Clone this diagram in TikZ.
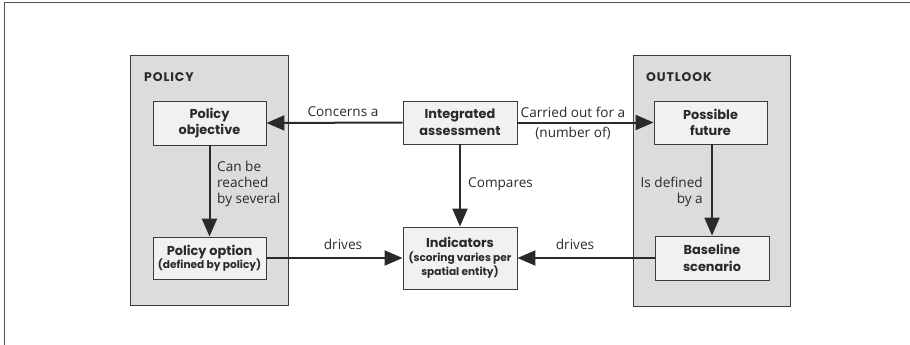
\documentclass[tikz,border=0pt]{standalone}
\usepackage{fontspec}
\setmainfont{Open Sans}
\newfontfamily\boxfont{Poppins}
\newfontfamily\titlefont{Poppins}[LetterSpace=7]
\usetikzlibrary{arrows.meta}
\definecolor{grpfill}{HTML}{DCDCDE}
\definecolor{boxfill}{HTML}{F0F1F3}
\definecolor{txt}{HTML}{2A2A2A}
\definecolor{edge}{HTML}{3C3C3C}
\newcommand{\smalltxt}[1]{{\fontsize{10.6}{12}\selectfont #1}}
\begin{document}
\begin{tikzpicture}[x=1pt,y=-1pt,
  grp/.style={draw=edge, line width=1pt, fill=grpfill, inner sep=0pt},
  nbox/.style={draw=edge, line width=0.9pt, fill=boxfill, inner sep=0pt, align=center,
    text=txt, font=\boxfont\bfseries\fontsize{12.9}{16.5}\selectfont},
  conn/.style={line width=2pt, draw=txt, -{Triangle[length=18pt,width=15pt]}},
  lbl/.style={font=\fontsize{13.6}{16}\selectfont, text=txt, inner sep=0pt},
  grptitle/.style={font=\titlefont\bfseries\fontsize{12.5}{12}\selectfont, text=txt, inner sep=0pt, anchor=west}
]
\useasboundingbox (0,0) rectangle (910,345);
\draw[edge!90, line width=1pt] (4,360) -- (4,3) -- (930,3);

% groups
\node[grp, minimum width=158pt, minimum height=249pt] (polgrp) at (209.5,180.5) {};
\node[grp, minimum width=157.5pt, minimum height=250pt] (outgrp) at (711.75,181) {};
\node[grptitle] (poltitle) at (144,77) {POLICY};
\node[grptitle] (outtitle) at (646,77) {OUTLOOK};

% boxes
\node[nbox, minimum width=113pt, minimum height=44pt] (pobj) at (209.5,123) {Policy\\objective};
\node[nbox, minimum width=113pt, minimum height=42pt] (popt) at (209.5,258) {Policy option\\[-3pt]\smalltxt{(defined by policy)}};
\node[nbox, minimum width=114pt, minimum height=43pt] (ia) at (460,122.5) {Integrated\\assessment};
\node[nbox, minimum width=114pt, minimum height=62pt] (ind) at (460,258) {Indicators\\[-3pt]\smalltxt{(scoring varies per}\\[-2pt]\smalltxt{spatial entity)}};
\node[nbox, minimum width=113pt, minimum height=43pt] (pf) at (710.5,122.5) {Possible\\future};
\node[nbox, minimum width=114pt, minimum height=44pt] (bs) at (712,258) {Baseline\\scenario};

% connectors
\draw[conn] (ia.west) -- (pobj.east);
\draw[conn] (ia.east) -- (pf.west);
\draw[conn] (pobj.south) -- (popt.north);
\draw[conn] (ia.south) -- (ind.north);
\draw[conn] ([xshift=1.5pt]pf.south) -- ([xshift=1.5pt]pf.south |- bs.north);
\draw[conn] (popt.east) -- (ind.west);
\draw[conn] (bs.west) -- (ind.east);

% labels
\node[lbl] (l1) at (343,112) {Concerns a};
\node[lbl] (l2) at (343,244) {drives};
\node[lbl] (l3) at (573,112) {Carried out for a};
\node[lbl] (l4) at (573,133) {(number of)};
\node[lbl, anchor=west] (l5) at (468,184) {Compares};
\node[lbl, anchor=west, align=left] (l6) at (217,184) {Can be\\reached\\by several};
\node[lbl, anchor=east, align=right] (l7) at (703,192) {Is defined\\by a};
\node[lbl] (l8) at (575,244) {drives};
\end{tikzpicture}
\end{document}
